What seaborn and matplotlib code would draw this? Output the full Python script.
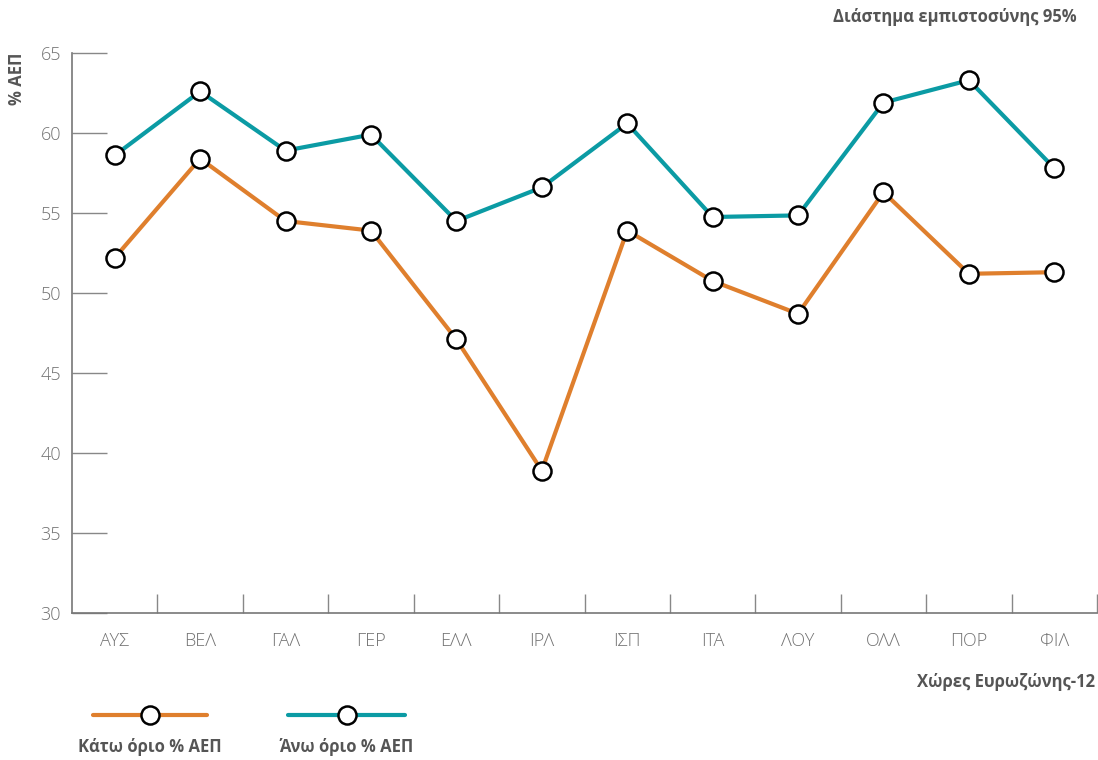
import pandas as pd
import matplotlib.pyplot as plt
import seaborn as sns
from matplotlib.lines import Line2D

# χώρες ευρωζώνης και όρια διαστήματος εμπιστοσύνης
countries = ['ΑΥΣ', 'ΒΕΛ', 'ΓΑΛ', 'ΓΕΡ', 'ΕΛΛ', 'ΙΡΛ', 'ΙΣΠ', 'ΙΤΑ', 'ΛΟΥ', 'ΟΛΛ', 'ΠΟΡ', 'ΦΙΛ']
lower = [52.2, 58.4, 54.5, 53.9, 47.1, 38.9, 53.9, 50.75, 48.7, 56.3, 51.2, 51.3]
upper = [58.6, 62.6, 58.9, 59.9, 54.5, 56.6, 60.6, 54.75, 54.85, 61.9, 63.3, 57.8]
series_names = ['Κάτω όριο % ΑΕΠ', 'Άνω όριο % ΑΕΠ']
yticks = [30, 35, 40, 45, 50, 55, 60, 65]

orange = '#DF7F2D'
teal = '#0B9BA4'
dark = '#555555'
light = '#727272'

df = pd.concat([
    pd.DataFrame({'country': countries, 'value': lower, 'series': series_names[0]}),
    pd.DataFrame({'country': countries, 'value': upper, 'series': series_names[1]}),
])

sns.set_style('white')
plt.rcParams['font.family'] = ['Open Sans', 'DejaVu Sans']

fig = plt.figure(figsize=(10.98, 7.6), dpi=100)
ax = fig.add_axes([72 / 1098, 1 - 613 / 760, 1025 / 1098, 560 / 760])

sns.lineplot(data=df, x='country', y='value', hue='series', sort=False,
             palette=[orange, teal], linewidth=3, marker='o', markersize=13,
             markerfacecolor='white', markeredgecolor='black', markeredgewidth=1.8,
             legend=False, ax=ax)

ax.set_xlim(-0.5, len(countries) - 0.5)
ax.set_ylim(30, 65)
ax.set_yticks(yticks)
ax.set_yticklabels([str(t) for t in yticks], color=light, fontsize=13, fontweight='light')
ax.set_xticks(range(len(countries)))
ax.set_xticklabels(countries, color=light, fontsize=13, fontweight='light')
ax.set_xticks([i + 0.5 for i in range(len(countries))], minor=True)
ax.tick_params(axis='x', which='major', bottom=True, length=0, pad=14)
ax.tick_params(axis='x', which='minor', bottom=True, direction='in', length=14, width=1,
               color='#888888')
ax.tick_params(axis='y', left=True, direction='in', length=25, width=1, color='#888888', pad=8)

for side in ['top', 'right']:
    ax.spines[side].set_visible(False)
for side in ['left', 'bottom']:
    ax.spines[side].set_color('#777777')
    ax.spines[side].set_linewidth(1.2)

ax.set_xlabel('')
ax.set_ylabel('% ΑΕΠ', loc='top', color=dark, fontsize=12, fontweight='bold', labelpad=10)

fig.text(1077 / 1098, 1 - 17 / 760, 'Διάστημα εμπιστοσύνης 95%', ha='right', va='center',
         color=dark, fontsize=12, fontweight='bold')
fig.text(1095 / 1098, 1 - 682 / 760, 'Χώρες Ευρωζώνης-12', ha='right', va='center',
         color=dark, fontsize=12, fontweight='bold')

# υπόμνημα: γραμμή με κύκλο και κείμενο από κάτω
for (x0, x1, xm), color, name in zip([(93, 207, 150), (288, 405, 347)], [orange, teal], series_names):
    y = 1 - 715 / 760
    fig.add_artist(Line2D([x0 / 1098, x1 / 1098], [y, y], color=color, linewidth=3,
                          solid_capstyle='round'))
    fig.add_artist(Line2D([xm / 1098], [y], marker='o', markersize=13, markerfacecolor='white',
                          markeredgecolor='black', markeredgewidth=1.8))
    fig.text(xm / 1098, 1 - 747 / 760, name, ha='center', va='center', color=dark,
             fontsize=12, fontweight='bold')

fig.savefig('out.png', dpi=100)
